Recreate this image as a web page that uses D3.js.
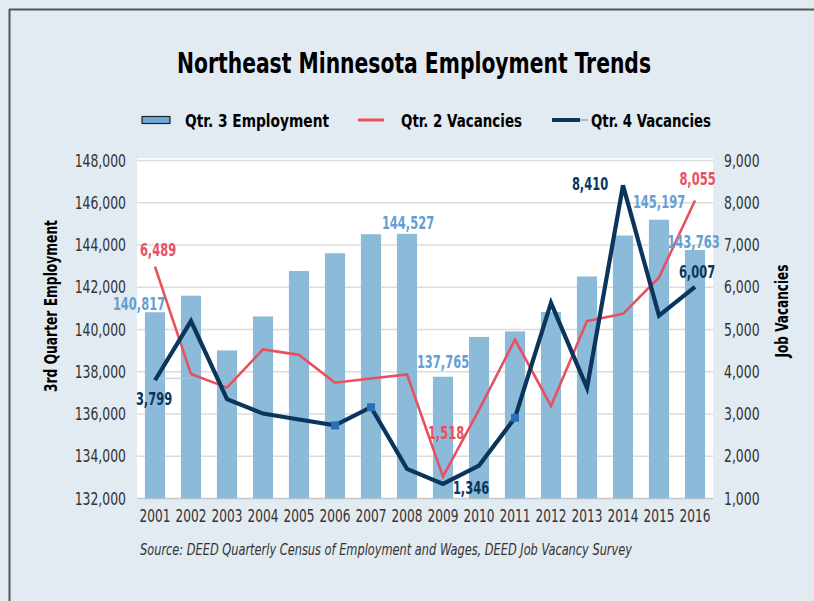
<!DOCTYPE html>
<html>
<head>
<meta charset="utf-8">
<script src="https://cdn.jsdelivr.net/npm/d3@7"></script>
<style>
  html, body { margin: 0; padding: 0; background: #e2eaf2; }
  svg { display: block; }
  text { font-family: "Liberation Sans Narrow", "DejaVu Sans Condensed", "Arial Narrow", sans-serif; }
</style>
</head>
<body>
<svg id="chart" width="814" height="601"></svg>
<script>
// ---- data ----
const years = ["2001","2002","2003","2004","2005","2006","2007","2008","2009","2010","2011","2012","2013","2014","2015","2016"];
const q3Employment = [140817,141600,139010,140620,142770,143610,144510,144527,137765,139650,139910,140830,142510,144450,145197,143763];
const q2Vacancies = [6489,3945,3625,4530,4400,3740,3840,3935,1518,3100,4760,3190,5200,5370,6230,8055];
const q4Vacancies = [3799,5200,3350,3010,2870,2730,3160,1700,1346,1780,2910,5630,3620,8410,5330,6007];
const leftTicks = [132000,134000,136000,138000,140000,142000,144000,146000,148000];
const rightTicks = [1000,2000,3000,4000,5000,6000,7000,8000,9000];
const q4MarkerYears = ["2006","2007","2011"];
const seriesNames = ["Qtr. 3 Employment","Qtr. 2 Vacancies","Qtr. 4 Vacancies"];
const titleText = "Northeast Minnesota Employment Trends";
const sourceText = "Source: DEED Quarterly Census of Employment and Wages, DEED Job Vacancy Survey";

// labelled points: year indexes
const barLabelIdx = [0,7,8,14,15];
const q2LabelIdx = [0,8,15];
const q4LabelIdx = [0,8,13,15];

// ---- layout ----
const C = { bar:"#8bbbd9", barLabel:"#62a0d4", red:"#e9505f", navy:"#0c355c", marker:"#2a6fb8", text:"#333", grid:"#dcdcdc" };
const plot = { left:137, right:713, top:158, bottom:498.5 };
const svg = d3.select("#chart");
const fmt = d3.format(",");

// horizontal condensing via transform (keeps glyph height, narrows width)
function condense(sel, factor) {
  sel.each(function() {
    const t = d3.select(this);
    const tx = +t.attr("x") || 0, ty = +t.attr("y") || 0;
    t.attr("x", 0).attr("y", 0)
     .attr("transform", `translate(${tx},${ty}) scale(${factor},1)`);
  });
}

svg.append("rect").attr("x",0).attr("y",0).attr("width",814).attr("height",601).attr("fill","#e2eaf2");
// frame
svg.append("line").attr("x1",9).attr("x2",814).attr("y1",9.5).attr("y2",9.5).attr("stroke","#555").attr("stroke-width",2);
svg.append("line").attr("x1",9.5).attr("x2",9.5).attr("y1",9).attr("y2",601).attr("stroke","#555").attr("stroke-width",2);

const x = d3.scaleBand().domain(years).range([plot.left, plot.right]).paddingInner(0.44).paddingOuter(0.22);
const yL = d3.scaleLinear().domain([132000,148000]).range([plot.bottom, 160.5]);
const yR = d3.scaleLinear().domain([1000,9000]).range([plot.bottom, 160.5]);
const cx = d => x(d) + x.bandwidth()/2;

// plot background
svg.append("rect").attr("x",plot.left).attr("y",plot.top).attr("width",plot.right-plot.left).attr("height",plot.bottom-plot.top).attr("fill","#fff");

// gridlines
svg.append("g").selectAll("line").data(leftTicks.slice(1)).join("line")
  .attr("x1",plot.left).attr("x2",plot.right)
  .attr("y1",d=>yL(d)).attr("y2",d=>yL(d))
  .attr("stroke",C.grid).attr("stroke-width",1.5);
svg.append("line").attr("x1",plot.left).attr("x2",plot.right).attr("y1",yL(132000)).attr("y2",yL(132000))
  .attr("stroke","#c8c8c8").attr("stroke-width",1.5);

// axes (d3 axes, styled)
const axL = svg.append("g").attr("transform",`translate(${plot.left-11},0)`)
  .call(d3.axisLeft(yL).tickValues(leftTicks).tickFormat(fmt).tickSize(0).tickPadding(0));
const axR = svg.append("g").attr("transform",`translate(${plot.right+11},0)`)
  .call(d3.axisRight(yR).tickValues(rightTicks).tickFormat(fmt).tickSize(0).tickPadding(0));
const axB = svg.append("g").attr("transform",`translate(0,${plot.bottom+17})`)
  .call(d3.axisBottom(x).tickSize(0).tickPadding(0));
[axL,axR,axB].forEach(a => {
  a.select(".domain").remove();
  a.selectAll("text").attr("fill",C.text).style("font-size","17.5px")
   .style("font-family",'"Liberation Sans Narrow", "DejaVu Sans Condensed", sans-serif');
});
axB.selectAll("text").attr("dy","0.35em").attr("y",0);
condense(axL.selectAll("text"), 0.79);
condense(axR.selectAll("text"), 0.79);
condense(axB.selectAll("text"), 0.77);

// bars
svg.append("g").selectAll("rect").data(years).join("rect")
  .attr("x",d=>x(d)).attr("width",x.bandwidth())
  .attr("y",(d,i)=>yL(q3Employment[i])).attr("height",(d,i)=>yL(132000)-yL(q3Employment[i]))
  .attr("fill",C.bar);

// leader line for 3,799
svg.append("line").attr("x1",cx("2001")+2).attr("x2",cx("2002")).attr("y1",yR(q4Vacancies[0])-2).attr("y2",yR(q4Vacancies[0])-2)
  .attr("stroke","#a8cbe6").attr("stroke-width",1);

// lines
const lineR = d3.line().x((d,i)=>cx(years[i])).y(d=>yR(d));
svg.append("path").datum(q2Vacancies).attr("d",lineR).attr("fill","none")
  .attr("stroke",C.red).attr("stroke-width",2.6).attr("stroke-linejoin","miter");
svg.append("path").datum(q4Vacancies).attr("d",lineR).attr("fill","none")
  .attr("stroke",C.navy).attr("stroke-width",4.2).attr("stroke-linejoin","miter");

// markers
svg.append("g").selectAll("rect").data(q4MarkerYears).join("rect")
  .attr("x",d=>cx(d)-4).attr("y",d=>yR(q4Vacancies[years.indexOf(d)])-4)
  .attr("width",8).attr("height",8).attr("fill",C.marker);

// data labels (offsets relative to marks)
const barOff = {0:[-16,-8],7:[1,-11],8:[0,-14],14:[0,-17.5],15:[-1.5,-8]};
const q2Off = {0:[3,-16],8:[3,-43],15:[2.5,-21]};
const q4Off = {0:[-1,19],8:[28,4],13:[-33,-1],15:[2,-15]};
const lab = svg.append("g").style("font-weight","bold").style("font-size","17px").attr("text-anchor","middle").attr("dominant-baseline","central");
lab.selectAll("text.b").data(barLabelIdx).join("text").attr("class","b")
  .attr("x",i=>cx(years[i])+barOff[i][0]).attr("y",i=>yL(q3Employment[i])+barOff[i][1])
  .attr("fill",C.barLabel).text(i=>fmt(q3Employment[i]));
lab.selectAll("text.r").data(q2LabelIdx).join("text").attr("class","r")
  .attr("x",i=>cx(years[i])+q2Off[i][0]).attr("y",i=>yR(q2Vacancies[i])+q2Off[i][1])
  .attr("fill",C.red).text(i=>fmt(q2Vacancies[i]));
lab.selectAll("text.n").data(q4LabelIdx).join("text").attr("class","n")
  .attr("x",i=>cx(years[i])+q4Off[i][0]).attr("y",i=>yR(q4Vacancies[i])+q4Off[i][1])
  .attr("fill",C.navy).text(i=>fmt(q4Vacancies[i]));
condense(lab.selectAll("text"), 0.75);

// title
svg.append("text").attr("x",414).attr("y",63).attr("text-anchor","middle").attr("dominant-baseline","central")
  .style("font-weight","bold").style("font-size","28px").attr("fill","#000")
  .attr("textLength",474).attr("lengthAdjust","spacingAndGlyphs").text(titleText);

// legend
const lg = svg.append("g");
lg.append("rect").attr("x",142).attr("y",116.5).attr("width",28).attr("height",7).attr("fill","#6ea8d8").attr("stroke","#222").attr("stroke-width",1.2);
lg.append("line").attr("x1",358).attr("x2",384).attr("y1",120).attr("y2",120).attr("stroke",C.red).attr("stroke-width",3);
lg.append("line").attr("x1",552).attr("x2",580).attr("y1",120).attr("y2",120).attr("stroke",C.navy).attr("stroke-width",4);
lg.append("line").attr("x1",580).attr("x2",588).attr("y1",120).attr("y2",120).attr("stroke","#888").attr("stroke-width",1);
const legX = [[185,144],[401,121],[591,120]];
lg.selectAll("text").data(seriesNames).join("text")
  .attr("x",(d,i)=>legX[i][0]).attr("y",120).attr("dominant-baseline","central")
  .style("font-weight","bold").style("font-size","18px").attr("fill","#000")
  .attr("textLength",(d,i)=>legX[i][1]).attr("lengthAdjust","spacingAndGlyphs").text(d=>d);

// axis titles
svg.append("text").attr("transform","translate(51,306) rotate(-90)").attr("text-anchor","middle").attr("dominant-baseline","central")
  .style("font-weight","bold").style("font-size","17px").attr("fill","#000")
  .attr("textLength",172).attr("lengthAdjust","spacingAndGlyphs").text("3rd Quarter Employment");
svg.append("text").attr("transform","translate(782,311) rotate(-90)").attr("text-anchor","middle").attr("dominant-baseline","central")
  .style("font-weight","bold").style("font-size","17px").attr("fill","#000")
  .attr("textLength",93).attr("lengthAdjust","spacingAndGlyphs").text("Job Vacancies");

// source
svg.append("text").attr("x",140).attr("y",550).attr("dominant-baseline","central")
  .style("font-style","italic").style("font-size","15.5px").attr("fill","#333")
  .attr("textLength",492).attr("lengthAdjust","spacingAndGlyphs").text(sourceText);
</script>
</body>
</html>
